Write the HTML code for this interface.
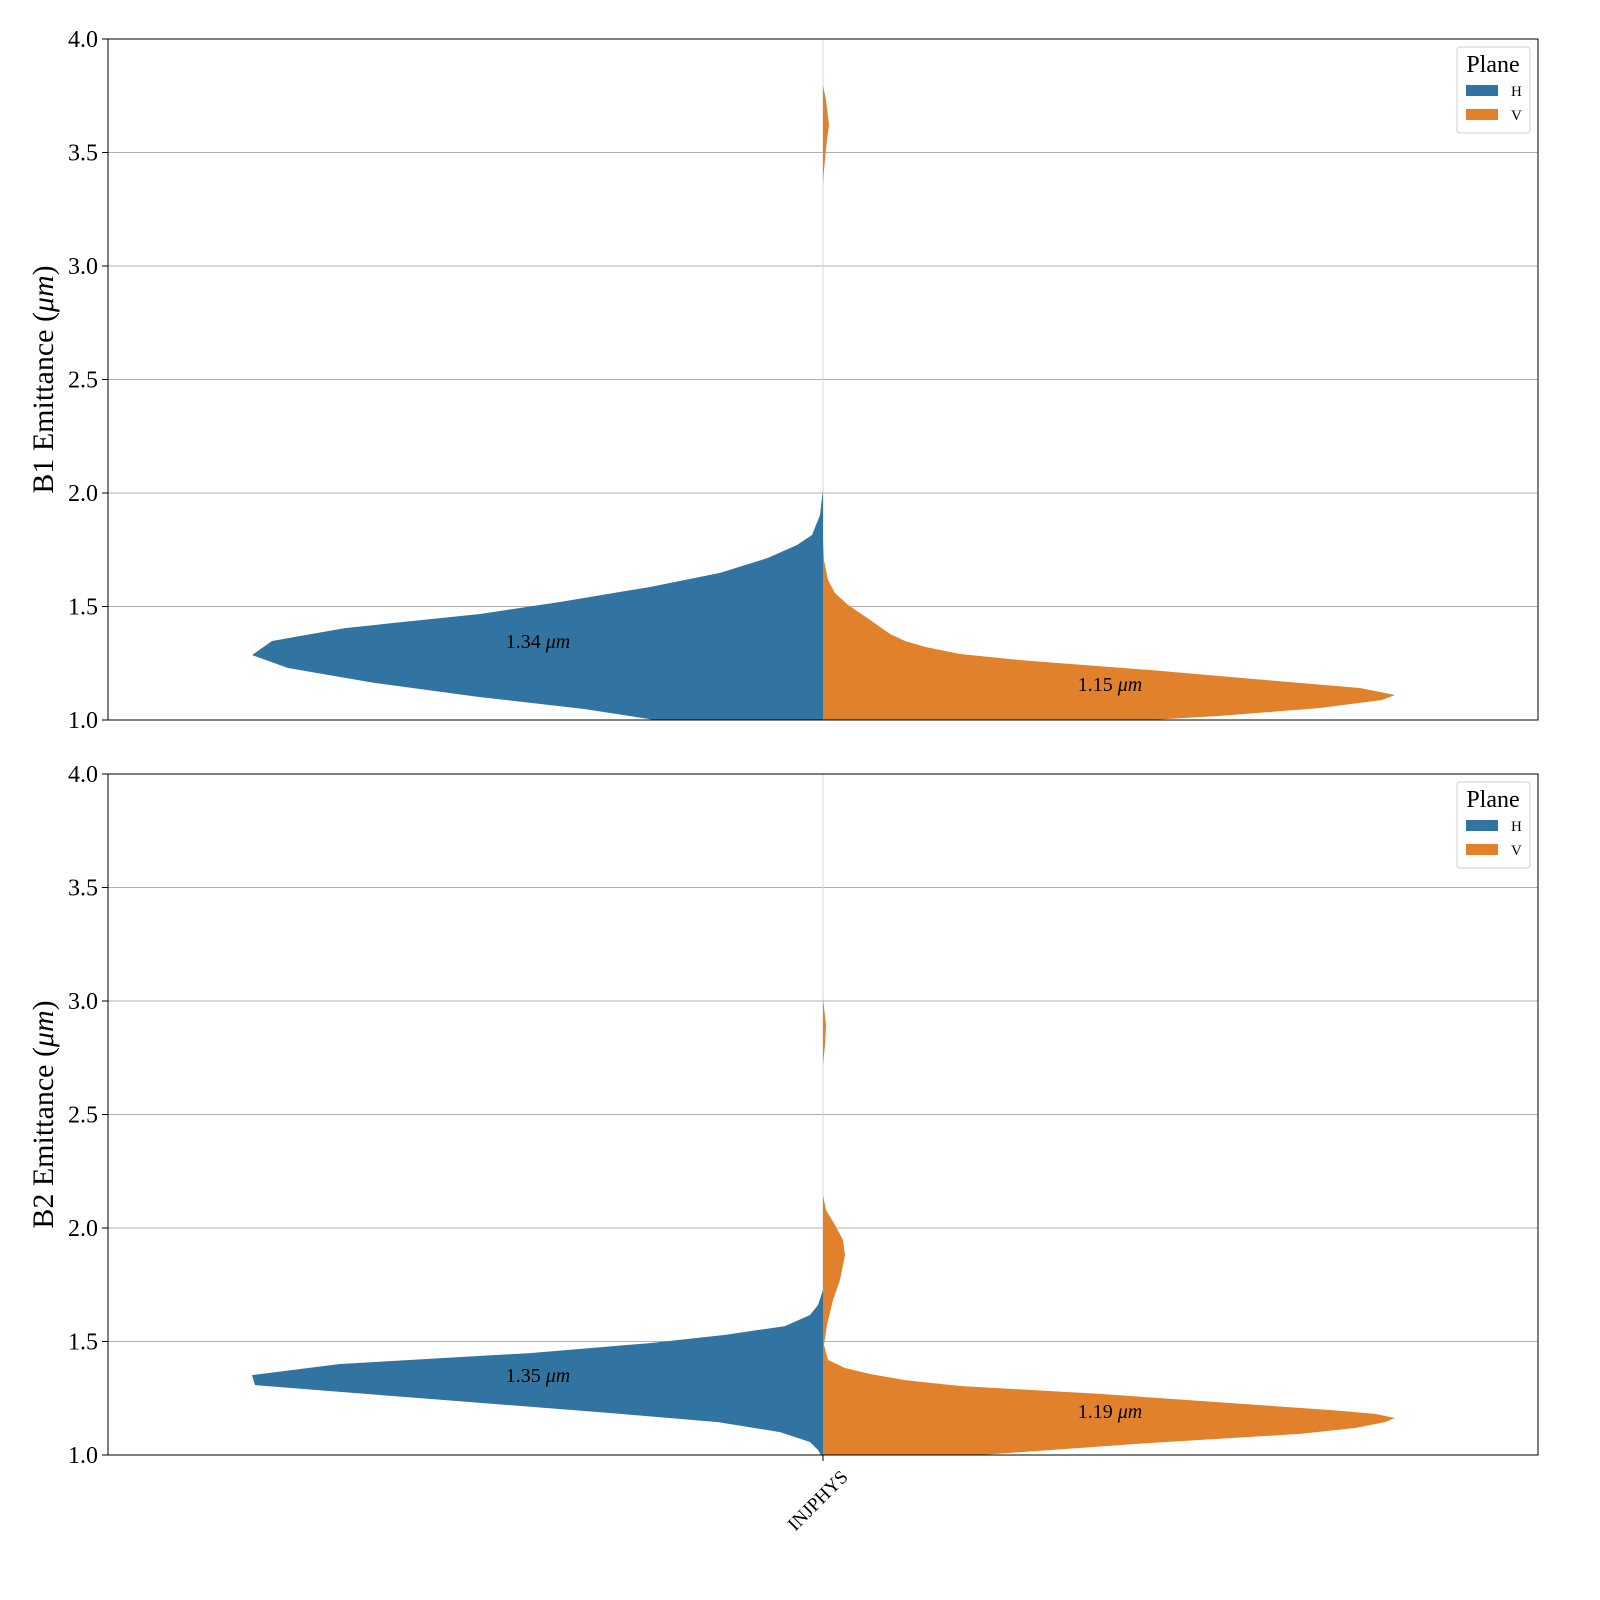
<!DOCTYPE html>
<html><head><meta charset="utf-8"><style>
html,body{margin:0;padding:0;background:#fff;width:1600px;height:1600px;overflow:hidden;}
svg{display:block;}
svg text{font-family:"Liberation Serif",serif;}
</style></head><body>
<svg id="chart" width="1600" height="1600" xmlns="http://www.w3.org/2000/svg"></svg>
<script>
// Data: emittance values (um) and density (relative half-width)
const yTicks = [1.0,1.5,2.0,2.5,3.0,3.5,4.0];
const category = "INJPHYS";
const b1H_y = [2.013,1.903,1.815,1.771,1.714,1.648,1.586,1.520,1.467,1.405,1.348,1.286,1.229,1.163,1.101,1.048,1.0];
const b1H_d = [0,3,11,26,55,103,173,263,343,478,551,571,535,448,343,238,168];
const b1V_y = [3.797,3.731,3.621,3.555,3.423,3.357,1.793,1.705,1.617,1.559,1.507,1.441,1.379,1.348,1.322,1.291,1.264,1.220,1.167,1.141,1.110,1.088,1.053,1.018,1.0];
const b1V_d = [0,3,6,4,1,0,0,1,5,12,25,47,67,82,102,137,197,327,467,537,572,559,497,397,327];
const b2H_y = [1.727,1.661,1.617,1.568,1.529,1.493,1.449,1.401,1.352,1.308,1.278,1.185,1.145,1.101,1.057,1.022,1.0];
const b2H_d = [0,5,13,38,98,173,293,483,571,568,483,213,105,43,13,5,2];
const b2V_y = [3.013,2.894,2.806,2.718,2.145,2.079,2.013,1.947,1.881,1.771,1.683,1.573,1.485,1.419,1.383,1.357,1.330,1.304,1.269,1.198,1.181,1.163,1.145,1.119,1.093,1.053,1.0];
const b2V_d = [0,3,2,0,0,3,12,20,22,17,10,4,1,5,22,47,82,137,277,507,552,572,562,532,477,327,157];
const medians = ["1.34","1.15","1.35","1.19"];
const ylabels = ["B1 Emittance (","B2 Emittance ("];

const NS="http://www.w3.org/2000/svg";
const svg=document.getElementById('chart');
function mk(tag,attrs,parent){const e=document.createElementNS(NS,tag);for(const k in attrs)e.setAttribute(k,attrs[k]);(parent||svg).appendChild(e);return e;}
const X0=108,X1=1538,CX=823,HALF=571,DMAX=571;
const panels=[{top:39,bot:720,H:[b1H_y,b1H_d],V:[b1V_y,b1V_d],mH:medians[0],mV:medians[1],lab:ylabels[0],hy:641,vy:684},
              {top:774,bot:1455,H:[b2H_y,b2H_d],V:[b2V_y,b2V_d],mH:medians[2],mV:medians[3],lab:ylabels[1],hy:1375,vy:1411}];
panels.forEach((p,i)=>{
  const ys=v=>p.bot-(v-1)/3*(p.bot-p.top);
  const xs=(d,s)=>CX+s*d/DMAX*HALF;
  const g=mk('g',{});
  
  
  yTicks.forEach(t=>{
    const y=ys(t);
    const gl=mk('line',{x1:X0,x2:X1,y1:y,y2:y,stroke:'#b0b0b0','stroke-width':1},g);
    
    
    const tk=mk('line',{x1:X0-6,x2:X0,y1:y,y2:y,stroke:'#000','stroke-width':1},g);
    
    
    const tl=mk('text',{x:X0-10,y:y+8,'text-anchor':'end','font-size':24},g);
    tl.textContent=t.toFixed(1);
    
    
  });
  const vl=mk('line',{x1:CX,x2:CX,y1:p.top,y2:p.bot,stroke:'#d8d8d8','stroke-width':1},g);
  
  
  [[p.H,-1,'#3274a1','violin-h'],[p.V,1,'#e1812c','violin-v']].forEach(([s,sg,c,n])=>{
    let pts=s[0].map((v,k)=>xs(s[1][k],sg)+','+ys(v));
    pts.push(CX+','+ys(s[0][s[0].length-1]));
    pts.unshift(CX+','+ys(s[0][0]));
    const pg=mk('polygon',{points:pts.join(' '),fill:c},g);
    
    
  });
  [[p.mH,538,p.hy,'median-label-h'],[p.mV,1110,p.vy,'median-label-v']].forEach(([m,x,y,n])=>{
    const t=mk('text',{x:x,y:y+7,'text-anchor':'middle','font-size':20},g);
    t.innerHTML=m+' <tspan font-style="italic">μm</tspan>';
    
    
  });
  const fr=mk('rect',{x:X0,y:p.top,width:X1-X0,height:p.bot-p.top,fill:'none',stroke:'#000','stroke-width':1},g);
  
  
  const cy=(p.top+p.bot)/2;
  const yl=mk('text',{x:0,y:0,'text-anchor':'middle','font-size':30,transform:`translate(53,${cy}) rotate(-90)`},g);
  yl.innerHTML=p.lab+'<tspan font-style="italic">μm</tspan>)';
  
  
  const lg=mk('g',{},g);
  
  
  mk('rect',{x:1457,y:p.top+8,width:73,height:86,rx:3,fill:'#fff',stroke:'#d0d0d0'},lg);
  const lt=mk('text',{x:1493,y:p.top+33,'text-anchor':'middle','font-size':24},lg);
  lt.textContent='Plane';
  [['H','#3274a1',52],['V','#e1812c',76]].forEach(([n,c,dy])=>{
    const r=mk('rect',{x:1466,y:p.top+dy-6,width:32,height:11,fill:c},lg);
    
    
    const t=mk('text',{x:1511,y:p.top+dy+5,'font-size':15},lg);
    t.textContent=n;
    
    
  });
});
const xt=mk('line',{x1:CX,x2:CX,y1:1455,y2:1461,stroke:'#000'});


const xl=mk('text',{x:0,y:0,'text-anchor':'end','font-size':19,transform:`translate(${CX+26},1478) rotate(-45)`});
xl.textContent=category;


</script>
</body></html>
